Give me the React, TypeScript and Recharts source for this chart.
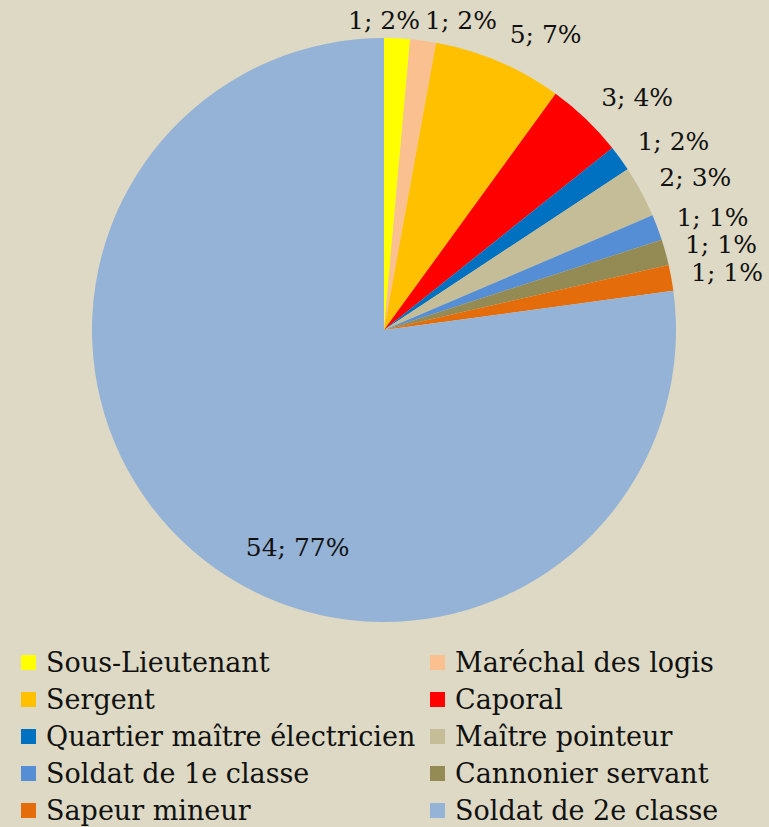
import { PieChart, Pie, Cell } from 'recharts';

const ranks = [
  'Sous-Lieutenant',
  'Maréchal des logis',
  'Sergent',
  'Caporal',
  'Quartier maître électricien',
  'Maître pointeur',
  'Soldat de 1e classe',
  'Cannonier servant',
  'Sapeur mineur',
  'Soldat de 2e classe',
];
const counts = [1, 1, 5, 3, 1, 2, 1, 1, 1, 54];
const percentLabels = ['2%', '2%', '7%', '4%', '2%', '3%', '1%', '1%', '1%', '77%'];
const colors = ['#FFFF00', '#FAC090', '#FFC000', '#FF0000', '#0070C0', '#C4BD97', '#558ED5', '#948A54', '#E46C0A', '#95B3D7'];

const W = 769;
const H = 827;
const CX = 384;
const CY = 330;
const R = 292;
const FONT = 'DejaVu Serif, Liberation Serif, serif';
const LABEL_SIZE = 25;
const LEGEND_SIZE = 27;

const data = ranks.map((name, i) => ({ name, value: counts[i] }));

type Placed = { x: number; y: number; text: string; w: number; top: boolean };

// rough Excel-like outside-end placement, with a small push-apart for labels stuck at the top
function placeLabels(cx: number, cy: number, r: number): Placed[] {
  const total = counts.reduce((a, b) => a + b, 0);
  let acc = 0;
  const out: Placed[] = counts.map((v, i) => {
    const start = (acc / total) * 360;
    acc += v;
    const end = (acc / total) * 360;
    const text = `${v}; ${percentLabels[i]}`;
    const w = text.length * 14;
    const h = 28;
    if (v / total > 0.5) {
      const a = ((start + 0.43 * (end - start)) * Math.PI) / 180;
      return { x: cx + 0.8 * r * Math.sin(a), y: cy - 0.8 * r * Math.cos(a), text, w, top: false };
    }
    const a = (((start + end) / 2) * Math.PI) / 180;
    const px = cx + (r + 15) * Math.sin(a);
    const py = cy - (r + 15) * Math.cos(a);
    const s = Math.sin(a);
    const x = px + (w / 2 + 6) * Math.sign(s) * Math.min(1, 3 * Math.abs(s));
    let y = py - (h / 2) * Math.cos(a);
    const top = y < 20;
    if (top) y = 20;
    return { x, y, text, w, top };
  });
  for (let i = 0; i < out.length - 1; i++) {
    const a = out[i];
    const b = out[i + 1];
    if (!a.top || !b.top) continue;
    const need = (a.w + b.w) / 2 + 7;
    const gap = b.x - a.x;
    if (gap < need) {
      const d = (need - gap) / 2;
      a.x -= d;
      b.x += d;
    }
  }
  return out;
}

const renderLabel = (props: any) => {
  const placed = placeLabels(props.cx, props.cy, props.outerRadius);
  const p = placed[props.index];
  return (
    <text
      key={`lbl-${props.index}`}
      x={p.x}
      y={p.y}
      textAnchor="middle"
      dominantBaseline="central"
      fontFamily={FONT}
      fontSize={LABEL_SIZE}
      fill="#111"
    >
      {p.text}
    </text>
  );
};

export default function App() {
  return (
    <div style={{ position: 'absolute', left: 0, top: 0, width: W, height: H, background: '#DDD9C4', overflow: 'hidden' }}>
      <PieChart width={W} height={H} margin={{ top: 0, right: 0, bottom: 0, left: 0 }}>
        <Pie
          data={data}
          dataKey="value"
          nameKey="name"
          cx={CX}
          cy={CY}
          outerRadius={R}
          startAngle={90}
          endAngle={-270}
          stroke="none"
          label={renderLabel}
          labelLine={false}
          isAnimationActive={false}
        >
          {data.map((d, i) => (
            <Cell key={d.name} fill={colors[i]} />
          ))}
        </Pie>
      </PieChart>
      <div
        style={{
          position: 'absolute',
          left: 21,
          top: 644,
          display: 'grid',
          gridTemplateColumns: '409px 330px',
          rowGap: 0,
          fontFamily: FONT,
          fontSize: LEGEND_SIZE,
          color: '#111',
        }}
      >
        {ranks.map((name, i) => (
          <div key={name} style={{ display: 'flex', alignItems: 'center', height: 37, whiteSpace: 'nowrap' }}>
            <span style={{ width: 15, height: 15, background: colors[i], marginRight: 10, flex: 'none' }} />
            <span>{name}</span>
          </div>
        ))}
      </div>
    </div>
  );
}
